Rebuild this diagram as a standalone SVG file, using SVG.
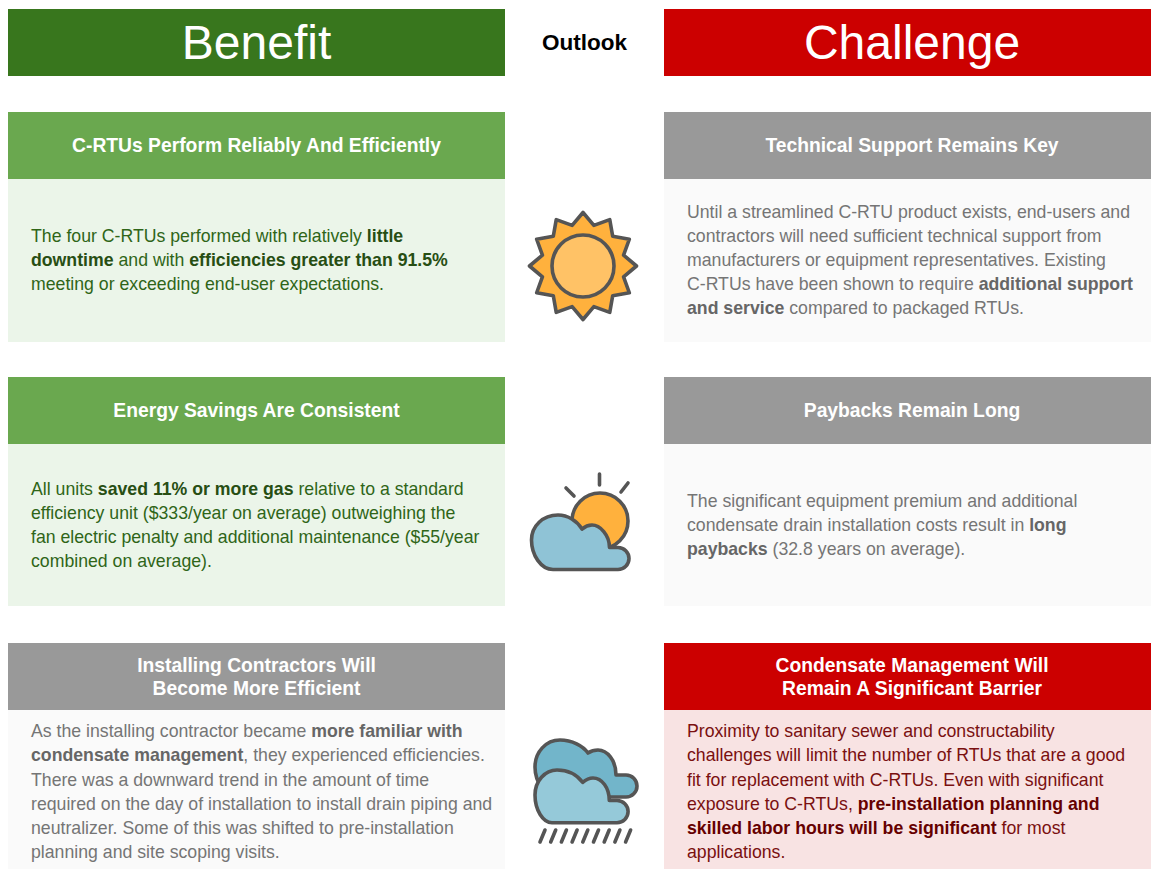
<svg xmlns="http://www.w3.org/2000/svg" width="1151" height="869" viewBox="0 0 1151 869">
<style>
text{font-family:"Liberation Sans",Arial,sans-serif}
.hd{font-size:48px;fill:#fff;text-anchor:middle}
.tt{font-size:19.3px;font-weight:bold;fill:#fff;text-anchor:middle}
.bd{font-size:17.7px}
.bd tspan.b{font-weight:bold}
.g{fill:#2f6518}.g .b{fill:#274e13}
.k{fill:#757575}.k .b{fill:#666}
.r{fill:#7a1010}.r .b{fill:#660000}
.ic{stroke:#555;stroke-width:3.6;stroke-linejoin:round;stroke-linecap:round}
</style>
<rect width="1151" height="869" fill="#fff"/>
<g id="benefit-header"><rect x="8" y="9" width="497" height="67" fill="#38761d"/><text class="hd" x="256.500" y="59">Benefit</text></g>
<g id="outlook-header"><text x="584.500" y="50" font-size="22.500" font-weight="bold" text-anchor="middle" fill="#000">Outlook</text></g>
<g id="challenge-header"><rect x="664" y="9" width="487" height="67" fill="#cc0000"/><text class="hd" x="912" y="59">Challenge</text></g>

<g id="benefit-1"><rect x="8" y="112" width="497" height="67" fill="#6aa84f"/><rect x="8" y="179" width="497" height="163" fill="#ebf5e9"/>
<text class="tt" x="256.500" y="152">C-RTUs Perform Reliably And Efficiently</text>
<text class="bd g"><tspan x="31" y="241.500">The four C-RTUs performed with relatively </tspan><tspan class="b">little</tspan><tspan x="31" y="265.500" class="b">downtime</tspan><tspan> and with </tspan><tspan class="b">efficiencies greater than 91.5%</tspan><tspan x="31" y="289.500">meeting or exceeding end-user expectations.</tspan></text></g>

<g id="benefit-2"><rect x="8" y="377" width="497" height="67" fill="#6aa84f"/><rect x="8" y="444" width="497" height="162" fill="#ebf5e9"/>
<text class="tt" x="256.500" y="417">Energy Savings Are Consistent</text>
<text class="bd g"><tspan x="31" y="494.500">All units </tspan><tspan class="b">saved 11% or more gas</tspan><tspan> relative to a standard</tspan><tspan x="31" y="518.500">efficiency unit ($333/year on average) outweighing the</tspan><tspan x="31" y="542.500">fan electric penalty and additional maintenance ($55/year</tspan><tspan x="31" y="566.500">combined on average).</tspan></text></g>

<g id="benefit-3"><rect x="8" y="643" width="497" height="67" fill="#999"/><rect x="8" y="710" width="497" height="159" fill="#fafafa"/>
<text class="tt" x="256.500" y="672">Installing Contractors Will</text><text class="tt" x="256.500" y="695">Become More Efficient</text>
<text class="bd k"><tspan x="31" y="736.500">As the installing contractor became </tspan><tspan class="b">more familiar with</tspan><tspan x="31" y="760.500" class="b">condensate management</tspan><tspan>, they experienced efficiencies.</tspan><tspan x="31" y="785.500">There was a downward trend in the amount of time</tspan><tspan x="31" y="809.500">required on the day of installation to install drain piping and</tspan><tspan x="31" y="833.500">neutralizer. Some of this was shifted to pre-installation</tspan><tspan x="31" y="857.500">planning and site scoping visits.</tspan></text></g>

<g id="challenge-1"><rect x="664" y="112" width="487" height="67" fill="#999"/><rect x="664" y="179" width="487" height="163" fill="#fafafa"/>
<text class="tt" x="912" y="152">Technical Support Remains Key</text>
<text class="bd k"><tspan x="687" y="217.500">Until a streamlined C-RTU product exists, end-users and</tspan><tspan x="687" y="241.500">contractors will need sufficient technical support from</tspan><tspan x="687" y="265.500">manufacturers or equipment representatives. Existing</tspan><tspan x="687" y="289.500">C-RTUs have been shown to require </tspan><tspan class="b">additional support</tspan><tspan x="687" y="313.500" class="b">and service</tspan><tspan> compared to packaged RTUs.</tspan></text></g>

<g id="challenge-2"><rect x="664" y="377" width="487" height="67" fill="#999"/><rect x="664" y="444" width="487" height="162" fill="#fafafa"/>
<text class="tt" x="912" y="417">Paybacks Remain Long</text>
<text class="bd k"><tspan x="687" y="506.500">The significant equipment premium and additional</tspan><tspan x="687" y="530.500">condensate drain installation costs result in </tspan><tspan class="b">long</tspan><tspan x="687" y="554.500" class="b">paybacks</tspan><tspan> (32.8 years on average).</tspan></text></g>

<g id="challenge-3"><rect x="664" y="643" width="487" height="67" fill="#cc0000"/><rect x="664" y="710" width="487" height="159" fill="#f8e3e3"/>
<text class="tt" x="912" y="672">Condensate Management Will</text><text class="tt" x="912" y="695">Remain A Significant Barrier</text>
<text class="bd r"><tspan x="687" y="736.500">Proximity to sanitary sewer and constructability</tspan><tspan x="687" y="760.500">challenges will limit the number of RTUs that are a good</tspan><tspan x="687" y="785.500">fit for replacement with C-RTUs. Even with significant</tspan><tspan x="687" y="809.500">exposure to C-RTUs, </tspan><tspan class="b">pre-installation planning and</tspan><tspan x="687" y="833.500" class="b">skilled labor hours will be significant</tspan><tspan> for most</tspan><tspan x="687" y="857.500">applications.</tspan></text></g>

<g id="icon-sun" class="ic" transform="translate(583 266)"><polygon fill="#ffb13d" points="0,-53.500 10.870,-40.570 26.750,-46.330 29.700,-29.700 46.330,-26.750 40.570,-10.870 53.500,0 40.570,10.870 46.330,26.750 29.700,29.700 26.750,46.330 10.870,40.570 0,53.500 -10.870,40.570 -26.750,46.330 -29.700,29.700 -46.330,26.750 -40.570,10.870 -53.500,0 -40.570,-10.870 -46.330,-26.750 -29.700,-29.700 -26.750,-46.330 -10.870,-40.570"/><circle r="31" fill="#ffc266"/></g>

<g id="icon-partly-cloudy" class="ic"><circle cx="600" cy="521" r="28" fill="#ffb13d"/><path fill="none" d="M599.500 474V485M566 488L574 496M628 483L621 492"/><path fill="#8fc3d6" d="M553 569.500H618A11 11 0 0 0 618 547.500H609.500C609.500 535 600 525 592 525C588 525 585 526.500 582 529C577 521 568 515 558 515C543 515 531.500 526 531.500 540C531.500 555 541 569.500 553 569.500Z"/></g>

<g id="icon-rain" class="ic"><path fill="#72b5ca" d="M560 797H626A11 11 0 0 0 626 775H616C616 760 607 750 598 750C594 750 591 751 588 753C583 746 572 740 560 740C546 740 535 752 535 767C535 782 545 797 560 797Z"/><path fill="#95c9d9" d="M552 822.700H617A11 11 0 0 0 617 800.500H609.300C609.300 788 602 778 593 778C589 778 586 779.500 582.700 782.300C577 775 568 770 557 770C545 770 535 781 535 795C535 810 543 822.700 552 822.700Z"/><path fill="none" d="M545 830L540 842M555.700 830L550.700 842M566.400 830L561.400 842M577.100 830L572.100 842M587.800 830L582.800 842M598.500 830L593.500 842M609.200 830L604.200 842M619.900 830L614.900 842M630.600 830L625.600 842"/></g>
</svg>
